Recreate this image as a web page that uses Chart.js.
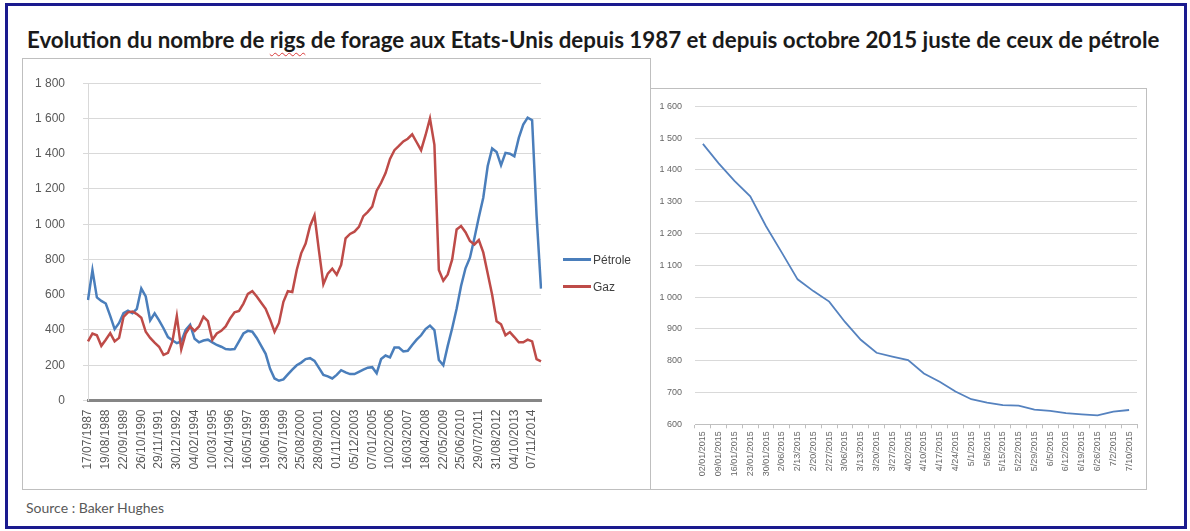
<!DOCTYPE html>
<html>
<head>
<meta charset="utf-8">
<script src="https://cdn.jsdelivr.net/npm/chart.js@4.4.1/dist/chart.umd.min.js"></script>
<style>
  body { margin: 0; background: #fff; width: 1190px; height: 531px; position: relative; overflow: hidden; font-family: "Liberation Sans", sans-serif; }
  .frame { position: absolute; left: 5px; top: 3px; width: 1182px; height: 526px; border: 3px solid #1a1a8e; box-sizing: border-box; }
  .title { position: absolute; left: 27px; top: 29px; line-height: 22px; font-family: Lato, sans-serif; font-weight: bold; font-size: 18px; white-space: nowrap; color: #1a1a1a; }
  .title .spell { text-decoration: underline wavy #d83a3a; text-decoration-thickness: 1px; text-underline-offset: 4px; text-decoration-skip-ink: none; }
  .box { position: absolute; border: 1px solid #bfbfbf; box-sizing: border-box; background: #fff; }
  canvas { position: absolute; }
  .legend-item { position: absolute; font-size: 12px; color: #404040; line-height: 14px; white-space: nowrap; }
  .legend-item .swatch { display: inline-block; width: 28px; height: 3px; vertical-align: middle; margin-right: 2px; position: relative; top: -1px; }
  .source { position: absolute; left: 26px; top: 499px; font-family: Lato, sans-serif; font-size: 14px; color: #595959; }
</style>
</head>
<body>
<div class="frame"></div>
<div class="title">Evolution du nombre de <span class="spell">rigs</span> de forage aux Etats-Unis depuis 1987 et depuis octobre 2015 juste de ceux de pétrole</div>
<div class="box" style="left:22px; top:58px; width:629px; height:432px;"></div>
<div class="box" style="left:650px; top:88px; width:497px; height:402px;"></div>
<canvas id="longChart" width="628" height="432" style="left:22px; top:58px;"></canvas>
<canvas id="recentChart" width="497" height="402" style="left:650px; top:88px;"></canvas>
<div id="legend"></div>
<div class="source">Source : Baker Hughes</div>

<script>
// Left chart: tick labels (one every 4 data points) and weekly rig counts sampled every ~14 weeks
let longTickLabels = ["17/07/1987", "19/08/1988", "22/09/1989", "26/10/1990", "29/11/1991", "30/12/1992",
    "04/02/1994", "10/03/1995", "12/04/1996", "16/05/1997", "19/06/1998", "23/07/1999", "25/08/2000",
    "28/09/2001", "01/11/2002", "05/12/2003", "07/01/2005", "10/02/2006", "16/03/2007", "18/04/2008",
    "22/05/2009", "25/06/2010", "29/07/2011", "31/08/2012", "04/10/2013", "07/11/2014"];
let pointsPerTick = 4;

let seriesNames = ["Pétrole", "Gaz"];
let seriesColors = ["#4A7EBB", "#BE4B48"];

let petroleValues = [570, 740, 585, 565, 550, 480, 405, 440, 495, 510,
    495, 520, 635, 590, 455, 495, 455, 410, 360, 342,
    325, 335, 400, 430, 350, 330, 340, 345, 330, 315,
    305, 292, 290, 292, 335, 380, 395, 390, 355, 310,
    265, 180, 125, 112, 120, 148, 175, 200, 215, 235,
    240, 225, 185, 145, 137, 125, 145, 172, 160, 150,
    150, 163, 175, 186, 189, 155, 235, 255, 245, 300,
    300, 278, 282, 315, 345, 370, 405, 425, 400, 230,
    200, 310, 410, 520, 650, 750, 810, 920, 1040, 1150,
    1330, 1430, 1410, 1335, 1405, 1400, 1385, 1490, 1565, 1605,
    1590, 1050, 635];

let gazValues = [335, 380, 370, 310, 345, 382, 335, 355, 475, 500,
    505, 490, 470, 390, 355, 328, 305, 259, 270, 335,
    480, 290, 380, 420, 395, 420, 475, 450, 345, 380,
    395, 420, 465, 500, 508, 550, 605, 620, 590, 555,
    520, 460, 390, 440, 560, 620, 615, 740, 835, 890,
    990, 1050, 850, 660, 720, 748, 713, 770, 920, 945,
    958, 985, 1046, 1070, 1100, 1190, 1235, 1290, 1370, 1420,
    1444, 1470, 1485, 1510, 1465, 1420, 1505, 1600, 1450, 740,
    680, 715, 800, 970, 990, 955, 905, 885, 910, 840,
    720, 600, 450, 432, 370, 388, 360, 330, 330, 345,
    335, 235, 222];

// Right chart: weekly oil rigs in 2015
let recentLabels = ["02/01/2015", "09/01/2015", "16/01/2015", "23/01/2015", "30/01/2015", "2/06/2015",
    "2/13/2015", "2/20/2015", "2/27/2015", "3/06/2015", "3/13/2015", "3/20/2015", "3/27/2015", "4/02/2015",
    "4/10/2015", "4/17/2015", "4/24/2015", "5/1/2015", "5/8/2015", "5/15/2015", "5/22/2015", "5/29/2015",
    "6/5/2015", "6/12/2015", "6/19/2015", "6/26/2015", "7/2/2015", "7/10/2015"];
let recentPetrole = [1482, 1421, 1366, 1317, 1223, 1140, 1056, 1019, 986, 922, 866, 825, 813, 802,
    760, 734, 703, 679, 668, 660, 659, 646, 642, 635, 631, 628, 640, 645];

// Format numbers the French way: 1 800
let formatThousands = (value) => {
    if (value < 1000) return String(value);
    return Math.floor(value / 1000) + " " + String(value % 1000).padStart(3, "0");
};

// Only every 4th point carries a date label
let longCategories = petroleValues.map((v, i) => (i % pointsPerTick === 0 ? (longTickLabels[i / pointsPerTick] || "") : ""));

let tickFont = { family: "Liberation Sans", size: 12 };

let longChart = new Chart(document.getElementById("longChart"), {
    type: "line",
    data: {
        labels: longCategories,
        datasets: [
            { label: seriesNames[0], data: petroleValues, borderColor: seriesColors[0], borderWidth: 2.5, pointRadius: 0, tension: 0, order: 1 },
            { label: seriesNames[1], data: gazValues, borderColor: seriesColors[1], borderWidth: 2.5, pointRadius: 0, tension: 0, order: 0 }
        ]
    },
    options: {
        responsive: false,
        animation: false,
        layout: { padding: { top: 17.5, right: 109, left: 0, bottom: 0 } },
        plugins: { legend: { display: false }, tooltip: { enabled: false } },
        scales: {
            x: {
                offset: false,
                grid: { display: false, drawTicks: false },
                border: { display: true, color: "#868686", width: 3 },
                ticks: { autoSkip: false, maxRotation: 90, minRotation: 90, padding: 9, color: "#595959", font: tickFont },
                afterFit: (scale) => { scale.height = 89.5; }
            },
            y: {
                min: 0,
                max: 1800,
                grid: { color: "#d9d9d9", tickLength: 5 },
                border: { color: "#d9d9d9" },
                ticks: { stepSize: 200, padding: 18, color: "#595959", font: tickFont, callback: (v) => formatThousands(v) },
                afterFit: (scale) => { scale.width = 66; }
            }
        }
    }
});

let smallFont = { family: "Liberation Sans", size: 9 };

let recentChart = new Chart(document.getElementById("recentChart"), {
    type: "line",
    data: {
        labels: recentLabels,
        datasets: [
            { label: seriesNames[0], data: recentPetrole, borderColor: "#5582BF", borderWidth: 1.8, pointRadius: 0, tension: 0 }
        ]
    },
    options: {
        responsive: false,
        animation: false,
        layout: { padding: { top: 14.7, right: 10, left: 0, bottom: 0 } },
        plugins: { legend: { display: false }, tooltip: { enabled: false } },
        scales: {
            x: {
                offset: true,
                grid: { drawOnChartArea: false, drawTicks: true, tickLength: 4, color: "#bfbfbf", offset: true },
                border: { color: "#bfbfbf" },
                ticks: { autoSkip: false, maxRotation: 90, minRotation: 90, padding: 3, color: "#666", font: smallFont },
                afterFit: (scale) => { scale.height = 65.7; }
            },
            y: {
                min: 600,
                max: 1600,
                grid: { color: "#d9d9d9", drawTicks: false },
                border: { display: false },
                ticks: { stepSize: 100, padding: 13, color: "#666", font: smallFont, callback: (v) => formatThousands(v) },
                afterFit: (scale) => { scale.width = 45; }
            }
        }
    }
});

// Legend for the left chart
let legendBox = document.getElementById("legend");
let legendTops = [253, 280];
seriesNames.forEach((name, i) => {
    let item = document.createElement("div");
    item.className = "legend-item";
    item.style.left = "563px";
    item.style.top = legendTops[i] + "px";
    item.innerHTML = '<span class="swatch" style="background:' + seriesColors[i] + '"></span>' + name;
    legendBox.appendChild(item);
});

// Stretch the title to the width it takes in the original
let fitTitle = () => {
    let title = document.querySelector(".title");
    let width = title.getBoundingClientRect().width;
    let size = parseFloat(getComputedStyle(title).fontSize);
    title.style.fontSize = (size * 1133 / width) + "px";
};
fitTitle();
</script>
</body>
</html>
